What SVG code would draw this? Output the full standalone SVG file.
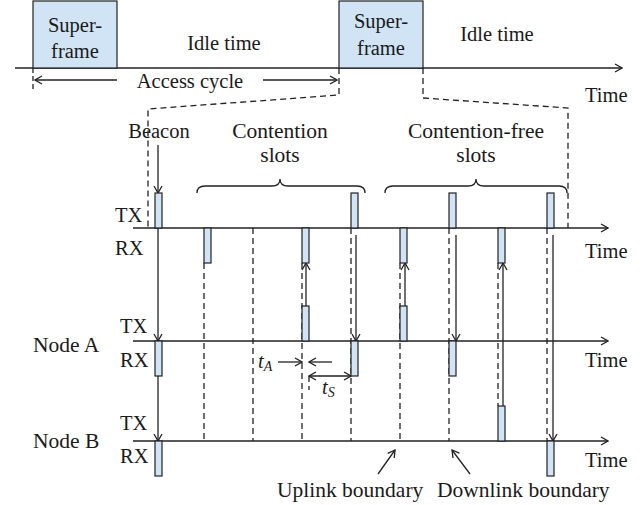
<svg xmlns="http://www.w3.org/2000/svg" width="644" height="505" viewBox="0 0 644 505">
<style>
text{font-family:"Liberation Serif","Times New Roman",serif;font-size:20.5px;fill:#1a1a1a}
.c{text-anchor:middle}
.w{font-size:21.5px}
.ln{stroke:#222;stroke-width:1.3;fill:none}
.ar{stroke:#222;stroke-width:1.3;fill:none;marker-end:url(#ah)}
.da{stroke:#222;stroke-width:1.3;fill:none;stroke-dasharray:6,4}
.sl{fill:#d0e4f5;stroke:#222;stroke-width:1.2}
.it{font-style:italic}
</style>
<defs>
<marker id="ah" markerWidth="10" markerHeight="10" refX="9" refY="5" orient="auto-start-reverse" markerUnits="userSpaceOnUse">
<path d="M2,1 L9,5 L2,9" fill="none" stroke="#222" stroke-width="1.3"/>
</marker>
</defs>

<g id="top-timeline">
<line class="ar" x1="15" y1="68" x2="622" y2="68"/>
<text x="585" y="102">Time</text>
</g>
<g id="superframe1">
<rect class="sl" x="33" y="1" width="84" height="67"/>
<text class="c" x="75" y="32">Super-</text>
<text class="c" x="75" y="58">frame</text>
</g>
<g id="idle1"><text class="c" x="224" y="50">Idle time</text></g>
<g id="superframe2">
<rect class="sl" x="339" y="1" width="84" height="67"/>
<text class="c" x="381" y="28">Super-</text>
<text class="c" x="381" y="55">frame</text>
</g>
<g id="idle2"><text class="c" x="497" y="41">Idle time</text></g>
<g id="access-cycle">
<line class="da" x1="33" y1="68" x2="33" y2="92" style="stroke-dasharray:5,3"/>
<line class="ar" x1="117" y1="80" x2="35" y2="80"/>
<line class="ar" x1="263" y1="80" x2="337" y2="80"/>
<text class="c" x="190" y="88">Access cycle</text>
</g>

<g id="labels">
<text class="c" x="159" y="138">Beacon</text>
<text class="c w" x="280" y="138">Contention</text>
<text class="c w" x="280" y="162">slots</text>
<text class="c w" x="476" y="138">Contention-free</text>
<text class="c w" x="476" y="162">slots</text>
<path class="ln" d="M197,193 Q197,186 205,186 L272,186 Q280,186 280,179 Q280,186 288,186 L357,186 Q365,186 365,193"/>
<path class="ln" d="M385,193 Q385,186 393,186 L468,186 Q476,186 476,179 Q476,186 484,186 L559,186 Q567,186 567,193"/>
</g>

<g id="coordinator-axis">
<line class="ar" x1="133" y1="228" x2="608" y2="228"/>
<text x="115" y="222">TX</text>
<text x="115" y="255">RX</text>
<text x="585" y="258">Time</text>
</g>
<g id="nodeA-axis">
<line class="ar" x1="133" y1="341" x2="608" y2="341"/>
<text x="33" y="352" class="w">Node A</text>
<text x="120" y="333">TX</text>
<text x="120" y="367">RX</text>
<text x="585" y="367">Time</text>
</g>
<g id="nodeB-axis">
<line class="ar" x1="133" y1="441" x2="608" y2="441"/>
<text x="33" y="448" class="w">Node B</text>
<text x="120" y="430">TX</text>
<text x="120" y="463">RX</text>
<text x="585" y="467">Time</text>
</g>

<g id="connectors">
<path class="da" d="M339,68 L339,95 L148,109 L148,228"/>
<path class="da" d="M423,68 L423,98 L568,108 L568,228"/>
<line class="da" x1="204" y1="263" x2="204" y2="441"/>
<line class="da" x1="253" y1="228" x2="253" y2="441"/>
<line class="da" x1="302" y1="263" x2="302" y2="441"/>
<line class="da" x1="309" y1="376" x2="309" y2="390"/>
<line class="da" x1="351" y1="228" x2="351" y2="441"/>
<line class="da" x1="400" y1="263" x2="400" y2="441"/>
<line class="da" x1="449" y1="228" x2="449" y2="441"/>
<line class="da" x1="498" y1="263" x2="498" y2="406"/>
<line class="da" x1="547" y1="228" x2="547" y2="441"/>

<line class="ar" x1="158" y1="145" x2="158" y2="193"/>
<line class="ar" x1="158" y1="228" x2="158" y2="341"/>
<line class="ar" x1="158" y1="376" x2="158" y2="441"/>
<line class="ar" x1="306" y1="306" x2="306" y2="263"/>
<line class="ar" x1="356" y1="235" x2="356" y2="341"/>
<line class="ar" x1="405" y1="306" x2="405" y2="263"/>
<line class="ar" x1="456" y1="235" x2="456" y2="341"/>
<line class="ar" x1="503" y1="406" x2="503" y2="263"/>
<line class="ar" x1="553" y1="235" x2="553" y2="441"/>

<line class="ar" x1="278" y1="362" x2="302" y2="362"/>
<line class="ar" x1="332" y1="362" x2="309" y2="362"/>
<line class="ar" x1="309" y1="376" x2="351" y2="376" style="marker-start:url(#ah)"/>

<line class="ar" x1="378" y1="474" x2="395" y2="450"/>
<line class="ar" x1="470" y1="474" x2="452" y2="450"/>
</g>

<g id="slots">
<rect class="sl" x="155" y="193" width="7" height="35"/>
<rect class="sl" x="204" y="228" width="7" height="35"/>
<rect class="sl" x="302" y="228" width="7" height="35"/>
<rect class="sl" x="351" y="193" width="7" height="35"/>
<rect class="sl" x="400" y="228" width="7" height="35"/>
<rect class="sl" x="449" y="193" width="7" height="35"/>
<rect class="sl" x="498" y="228" width="7" height="35"/>
<rect class="sl" x="547" y="193" width="7" height="35"/>
<rect class="sl" x="155" y="341" width="7" height="35"/>
<rect class="sl" x="302" y="306" width="7" height="35"/>
<rect class="sl" x="351" y="341" width="7" height="35"/>
<rect class="sl" x="400" y="306" width="7" height="35"/>
<rect class="sl" x="449" y="341" width="7" height="35"/>
<rect class="sl" x="155" y="441" width="7" height="35"/>
<rect class="sl" x="498" y="406" width="7" height="35"/>
<rect class="sl" x="547" y="441" width="7" height="35"/>
</g>

<g id="timing-labels">
<text x="258" y="368"><tspan class="it">t</tspan><tspan class="it" font-size="14" dy="3">A</tspan></text>
<text x="322" y="394"><tspan class="it">t</tspan><tspan class="it" font-size="14" dy="3">S</tspan></text>
</g>

<g id="boundary-labels">
<text x="277" y="497" class="w">Uplink boundary</text>
<text x="437" y="497" class="w">Downlink boundary</text>
</g>
</svg>
